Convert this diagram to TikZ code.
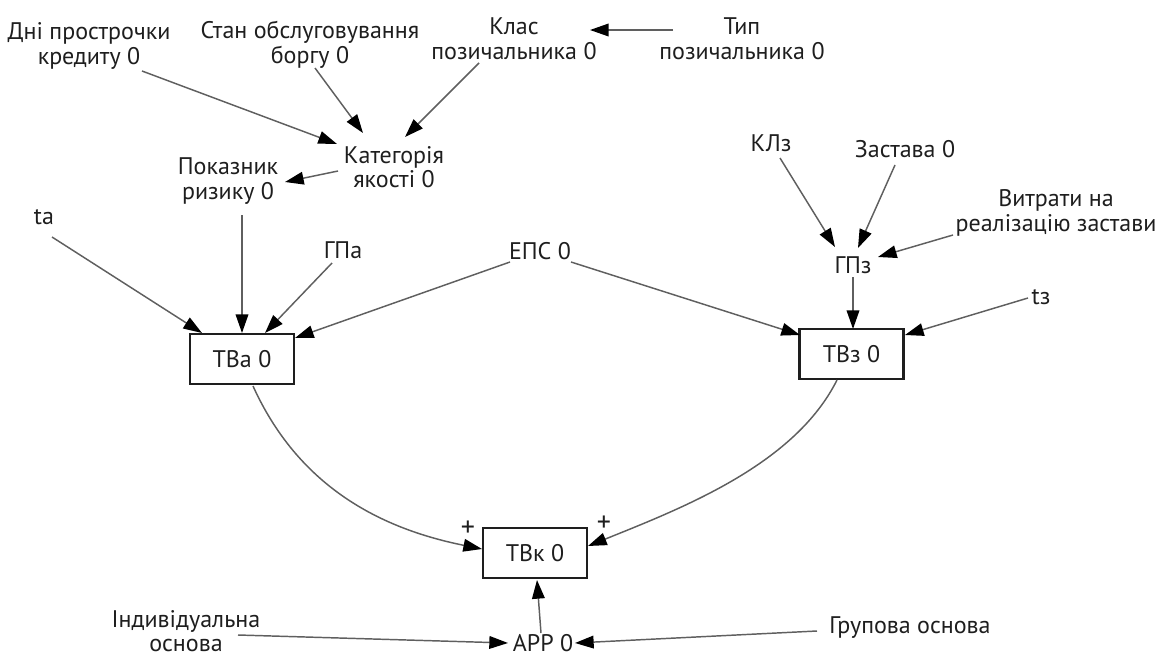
\documentclass[tikz,border=0pt]{standalone}
\usepackage{fontspec}
\setmainfont{PT Sans}
\usetikzlibrary{arrows.meta}
\definecolor{linegray}{RGB}{95,95,95}
\definecolor{ink}{RGB}{30,30,30}

\begin{document}
\begin{tikzpicture}[x=0.75pt, y=-0.75pt,
  lbl/.style={inner sep=0pt, align=center, text=ink, font=\fontsize{18}{18.5}\selectfont},
  var/.style={lbl, draw=ink, line width=2.2pt, minimum width=78pt, minimum height=37.5pt},
  sign/.style={inner sep=0pt, text=ink, font=\fontsize{21}{21}\selectfont},
  link/.style={draw=linegray, line width=1.1pt, -{Triangle[length=14pt,width=9.5pt,color=black]}},
]
\useasboundingbox (0,0) rectangle (1165,657);

% upper block: quality category of the loan
\node[lbl] (dni)  at (89,46)   {Дні прострочки\\кредиту 0};
\node[lbl] (stan) at (310,45)  {Стан обслуговування\\боргу 0};
\node[lbl] (klas) at (514,39)  {Клас\\позичальника 0};
\node[lbl] (typ)  at (742,39)  {Тип\\позичальника 0};
\node[lbl] (kat)  at (394,167) {Категорія\\якості 0};
\node[lbl] (pok)  at (228,181) {Показник\\ризику 0};

% asset side
\node[lbl] (ta)  at (44,217)  {ta};
\node[lbl] (gpa) at (343,250) {ГПа};
\node[lbl] (eps) at (540,251) {ЕПС 0};
\node[var] (tba) at (242,359) {ТВа 0};

% collateral side
\node[lbl] (klz)  at (771,143)  {КЛз};
\node[lbl] (zast) at (905,149)  {Застава 0};
\node[lbl] (vytr) at (1056,213) {Витрати на\\реалізацію застави};
\node[lbl] (gpz)  at (853,265)  {ГПз};
\node[lbl] (tz)   at (1041,297) {tз};
\node[var] (tbz)  at (851.5,354) {ТВз 0};

% result
\node[var] (tbk)  at (535,553) {ТВк 0};
\node[sign] (plusa) at (468,529) {+};
\node[sign] (plusz) at (604,524) {+};
\node[lbl] (ind)  at (186,631) {Індивідуальна\\основа};
\node[lbl] (app)  at (543,643) {АРР 0};
\node[lbl] (grup) at (910,628) {Групова основа};

% connectors into the category
\draw[link] ([shift={(53,25)}]dni.center)  -- ([shift={(-57,-23)}]kat.center);
\draw[link] ([shift={(5,23)}]stan.center)  -- ([shift={(-31,-34)}]kat.center);
\draw[link] ([shift={(-35,24)}]klas.center) -- ([shift={(11,-30)}]kat.center);
\draw[link] ([shift={(-69,-9)}]typ.center) -- ([shift={(76,-9)}]klas.center);
\draw[link] ([shift={(-56,4)}]kat.center)  -- ([shift={(57,1)}]pok.center);

% connectors into TBa
\draw[link] ([shift={(14,34)}]pok.center)  -- ([shift={(0,-26)}]tba.center);
\draw[link] ([shift={(8,20)}]ta.center)    -- ([shift={(-40,-26)}]tba.center);
\draw[link] ([shift={(-11,13)}]gpa.center) -- ([shift={(23,-26)}]tba.center);
\draw[link] ([shift={(-30,11)}]eps.center) -- ([shift={(53,-21)}]tba.center);

% connectors into GPz and TBz
\draw[link] ([shift={(31,11)}]eps.center)   -- ([shift={(-51.5,-19)}]tbz.center);
\draw[link] ([shift={(9,15)}]klz.center)    -- ([shift={(-18,-18)}]gpz.center);
\draw[link] ([shift={(-10,16)}]zast.center) -- ([shift={(5,-17)}]gpz.center);
\draw[link] ([shift={(-103,22)}]vytr.center) -- ([shift={(25,-8)}]gpz.center);
\draw[link] ([shift={(0,12)}]gpz.center)    -- ([shift={(1.5,-25)}]tbz.center);
\draw[link] ([shift={(-13,1)}]tz.center)    -- ([shift={(53.5,-19)}]tbz.center);

% connectors into TBk
\draw[link] ([shift={(11,27)}]tba.center) .. controls +(48,106) and +(-94,-19) .. ([shift={(-53,-4)}]tbk.center);
\draw[link] ([shift={(-14.5,26)}]tbz.center) .. controls +(-42,84) and +(97,-39) .. ([shift={(53,-7)}]tbk.center);
\draw[link] ([shift={(-2,-10)}]app.center) -- ([shift={(2,27)}]tbk.center);
\draw[link] ([shift={(52,4)}]ind.center)   -- ([shift={(-35,0)}]app.center);
\draw[link] ([shift={(-93,3)}]grup.center) -- ([shift={(32,0)}]app.center);
\end{tikzpicture}
\end{document}
